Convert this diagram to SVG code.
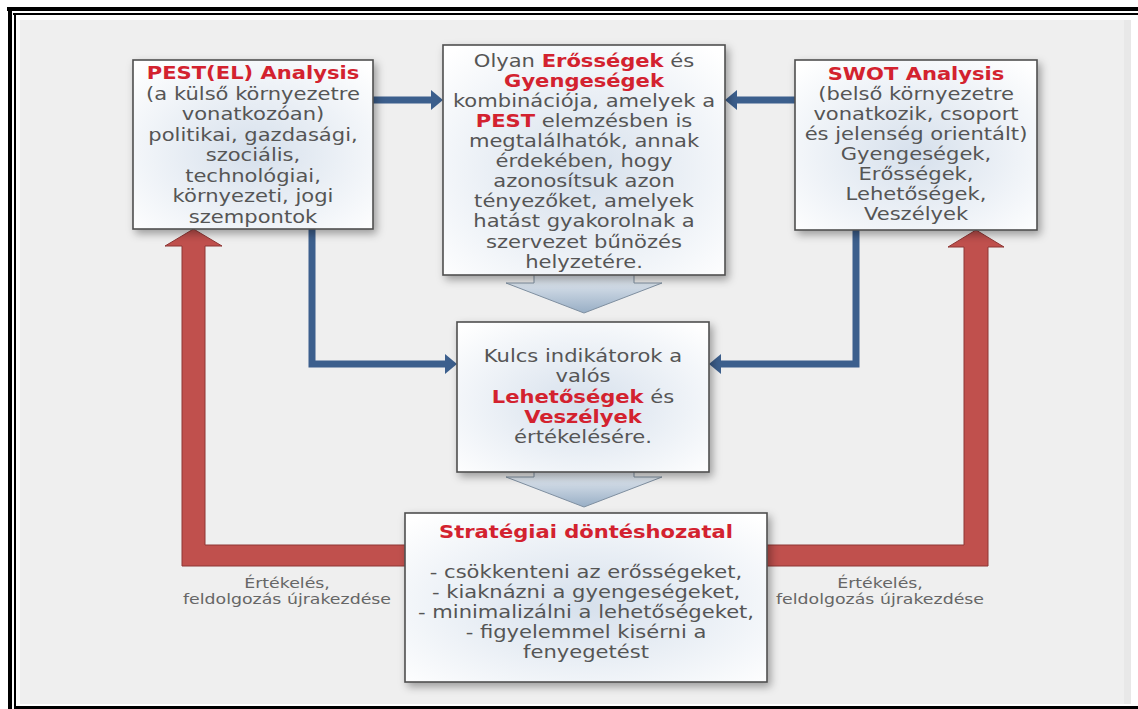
<svg xmlns="http://www.w3.org/2000/svg" width="1138" height="709" viewBox="0 0 1138 709">
<defs>
<style>
.t{font-family:"DejaVu Sans",Verdana,"Liberation Sans",sans-serif;font-size:17px;fill:#555;text-anchor:middle}
.b{font-weight:bold;fill:#d3222f}
.lbl{font-family:"DejaVu Sans",Verdana,"Liberation Sans",sans-serif;font-size:14px;fill:#666;text-anchor:middle}
.box{fill:url(#boxg);stroke:#4f4f4f;stroke-width:1.6;filter:url(#sh)}
.blue{fill:none;stroke:#3c5f8d;stroke-width:7;stroke-linejoin:miter}
.red{fill:#c0504d;stroke:#8e3634;stroke-width:1}
.down{fill:url(#downg);stroke:#7f8fa0;stroke-width:1}
</style>
<radialGradient id="boxg" cx="50%" cy="55%" r="70%">
<stop offset="0" stop-color="#d6e0ec"/>
<stop offset="1" stop-color="#ffffff"/>
</radialGradient>
<linearGradient id="downg" x1="0" y1="0" x2="0" y2="1">
<stop offset="0" stop-color="#eef2f7"/>
<stop offset="1" stop-color="#98aec5"/>
</linearGradient>
<filter id="sh" x="-10%" y="-10%" width="125%" height="130%">
<feDropShadow dx="3" dy="4" stdDeviation="4" flood-color="#000" flood-opacity="0.35"/>
</filter>
<marker id="bh" viewBox="0 0 12 20" refX="2" refY="10" markerWidth="12" markerHeight="20" markerUnits="userSpaceOnUse" orient="auto">
<path d="M0,0 L12,10 L0,20 Z" fill="#3c5f8d"/>
</marker>
</defs>

<rect x="0" y="0" width="1138" height="709" fill="#ffffff"/>
<rect x="20" y="20" width="1111" height="684" fill="#efefef"/>
<rect x="1124" y="20" width="7" height="684" fill="#e8e8e8"/>
<g id="frame" fill="#000">
<rect x="7" y="7" width="1131" height="4"/>
<rect x="13" y="13" width="1125" height="2"/>
<rect x="8" y="7" width="4" height="702"/>
<rect x="14" y="13" width="2" height="696"/>
<rect x="14" y="706" width="1124" height="3"/>
</g>

<g id="connectors">
<polygon class="red" points="406,545 205,545 205,246 222,246 193.5,229 165,246 182,246 182,566 406,566"/>
<polygon class="red" points="766,545 964,545 964,247 948,247 976,230 1004,247 988,247 988,566 766,566"/>
<path class="blue" d="M373,100 L433,100" marker-end="url(#bh)"/>
<path class="blue" d="M795,100 L735,100" marker-end="url(#bh)"/>
<path class="blue" d="M312,229 L312,364 L447,364" marker-end="url(#bh)"/>
<path class="blue" d="M856,230 L856,364 L719,364" marker-end="url(#bh)"/>
<polygon class="down" points="534,272 634,272 634,283 662,283 584,313 506,283 534,283"/>
<polygon class="down" points="534,470 634,470 634,477 662,477 584,507 506,477 534,477"/>
<g transform="translate(287,0) scale(1.24,1)">
<text class="lbl" x="0" y="588">Értékelés,</text>
<text class="lbl" x="0" y="604">feldolgozás újrakezdése</text>
</g>
<g transform="translate(880,0) scale(1.24,1)">
<text class="lbl" x="0" y="588">Értékelés,</text>
<text class="lbl" x="0" y="604">feldolgozás újrakezdése</text>
</g>
</g>

<g id="node-pest">
<rect class="box" x="133" y="60" width="240" height="169"/>
<g transform="translate(253,0) scale(1.24,1)">
<text class="t b" x="0" y="79">PEST(EL) Analysis</text>
<text class="t" x="0" y="100">(a külső környezetre</text>
<text class="t" x="0" y="120.5">vonatkozóan)</text>
<text class="t" x="0" y="141">politikai, gazdasági,</text>
<text class="t" x="0" y="161.5">szociális,</text>
<text class="t" x="0" y="182">technológiai,</text>
<text class="t" x="0" y="202.5">környezeti, jogi</text>
<text class="t" x="0" y="223">szempontok</text>
</g>
</g>

<g id="node-combo">
<rect class="box" x="443" y="45" width="282" height="230"/>
<g transform="translate(584,0) scale(1.24,1)">
<text class="t" x="0" y="67">Olyan <tspan class="b">Erősségek</tspan> és</text>
<text class="t b" x="0" y="87">Gyengeségek</text>
<text class="t" x="0" y="107">kombinációja, amelyek a</text>
<text class="t" x="0" y="127"><tspan class="b">PEST</tspan> elemzésben is</text>
<text class="t" x="0" y="147">megtalálhatók, annak</text>
<text class="t" x="0" y="167.5">érdekében, hogy</text>
<text class="t" x="0" y="187.5">azonosítsuk azon</text>
<text class="t" x="0" y="207.5">tényezőket, amelyek</text>
<text class="t" x="0" y="227.5">hatást gyakorolnak a</text>
<text class="t" x="0" y="248">szervezet bűnözés</text>
<text class="t" x="0" y="268">helyzetére.</text>
</g>
</g>

<g id="node-swot">
<rect class="box" x="795" y="60" width="242" height="170"/>
<g transform="translate(916,0) scale(1.24,1)">
<text class="t b" x="0" y="80">SWOT Analysis</text>
<text class="t" x="0" y="100">(belső környezetre</text>
<text class="t" x="0" y="120">vonatkozik, csoport</text>
<text class="t" x="0" y="140">és jelenség orientált)</text>
<text class="t" x="0" y="160">Gyengeségek,</text>
<text class="t" x="0" y="180">Erősségek,</text>
<text class="t" x="0" y="200">Lehetőségek,</text>
<text class="t" x="0" y="220">Veszélyek</text>
</g>
</g>

<g id="node-kulcs">
<rect class="box" x="457" y="322" width="252" height="150"/>
<g transform="translate(583,0) scale(1.24,1)">
<text class="t" x="0" y="362">Kulcs indikátorok a</text>
<text class="t" x="0" y="382">valós</text>
<text class="t" x="0" y="403"><tspan class="b">Lehetőségek</tspan> és</text>
<text class="t b" x="0" y="423">Veszélyek</text>
<text class="t" x="0" y="443">értékelésére.</text>
</g>
</g>

<g id="node-strat">
<rect class="box" x="405" y="513" width="362" height="169"/>
<g transform="translate(586,0) scale(1.24,1)">
<text class="t b" x="0" y="538">Stratégiai döntéshozatal</text>
<text class="t" x="0" y="578">- csökkenteni az erősségeket,</text>
<text class="t" x="0" y="598">- kiaknázni a gyengeségeket,</text>
<text class="t" x="0" y="618">- minimalizálni a lehetőségeket,</text>
<text class="t" x="0" y="638">- figyelemmel kisérni a</text>
<text class="t" x="0" y="658">fenyegetést</text>
</g>
</g>
</svg>
